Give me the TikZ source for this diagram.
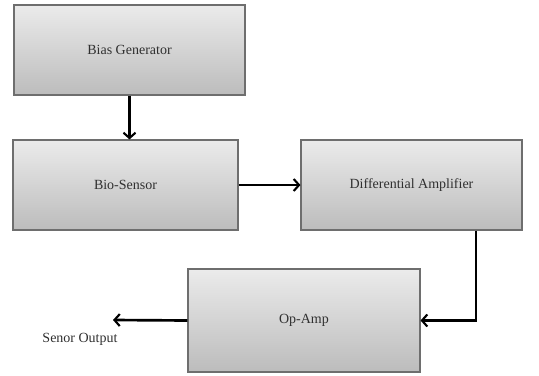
\documentclass[tikz,border=0pt]{standalone}
\usepackage{fontspec}
\setmainfont{Liberation Serif}
\usetikzlibrary{arrows.meta,calc,shadows}
\definecolor{boxtop}{HTML}{EBEBEB}
\definecolor{boxbot}{HTML}{BCBCBC}
\definecolor{boxline}{HTML}{6E6E6E}
\definecolor{labeltext}{HTML}{303030}
\tikzset{
  blockbox/.style={
    draw=boxline,line width=0.8pt,
    top color=boxtop,bottom color=boxbot,
    drop shadow={shadow xshift=0.8pt,shadow yshift=-0.8pt,opacity=0.35},
    text=labeltext,font=\fontsize{10.5}{12}\selectfont,
    inner sep=0pt
  },
  flowarrow/.style={
    line width=2pt,
    -{Straight Barb[length=4pt,width=9pt,line width=1.6pt]}
  }
}

\begin{document}
\begin{tikzpicture}[x=0.75pt,y=-0.75pt]
  \useasboundingbox (0,0) rectangle (539,375);

  \node[blockbox,minimum width=173.25pt,minimum height=67.5pt] (bias) at (129.5,50) {Bias Generator};
  \node[blockbox,minimum width=168.75pt,minimum height=67.5pt] (sensor) at (125.5,185) {Bio-Sensor};
  \node[blockbox,minimum width=165.75pt,minimum height=67.5pt] (diffamp) at (411.5,185) {Differential Amplifier};
  \node[blockbox,minimum width=174pt,minimum height=77.25pt] (opamp) at (304,320.5) {Op-Amp};

  \coordinate (outend) at (113,320);
  \node[text=labeltext,font=\fontsize{10.5}{12}\selectfont] (outlabel) at (80,339) {Senor Output};

  \draw[flowarrow] (bias.south) -- (bias.south |- sensor.north);
  \draw[flowarrow] (sensor.east) -- (diffamp.west);
  \draw[flowarrow] ($(diffamp.south west)!0.79!(diffamp.south east)$) |- (opamp.east);
  \draw[flowarrow] (opamp.west) -- (outend);
\end{tikzpicture}
\end{document}
